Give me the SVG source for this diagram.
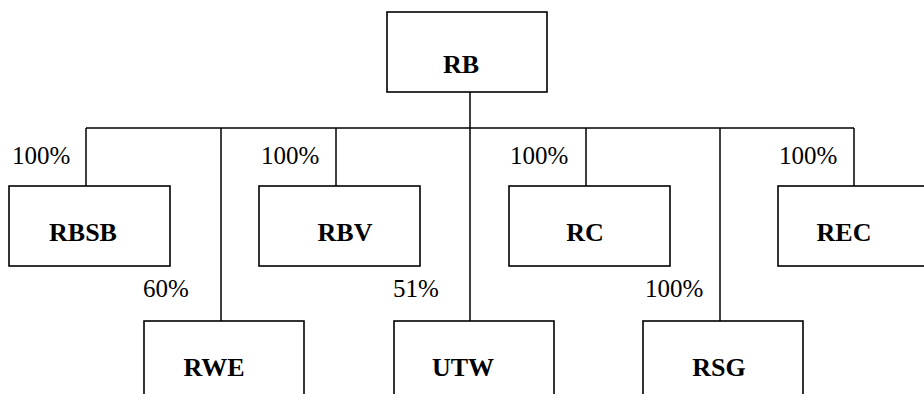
<svg xmlns="http://www.w3.org/2000/svg" width="924" height="394" viewBox="0 0 924 394">
  <style>
    .box { fill: #fff; stroke: #000; stroke-width: 1.6; }
    .line { fill: none; stroke: #000; stroke-width: 1.5; }
  </style>
  <rect width="924" height="394" fill="#fff"/>

  <g id="connectors">
    <line class="line" x1="86" y1="128" x2="854" y2="128"/>
    <line class="line" x1="470" y1="92" x2="470" y2="321"/>
    <line class="line" x1="86" y1="128" x2="86" y2="186"/>
    <line class="line" x1="336" y1="128" x2="336" y2="186"/>
    <line class="line" x1="586" y1="128" x2="586" y2="186"/>
    <line class="line" x1="854" y1="128" x2="854" y2="186"/>
    <line class="line" x1="221" y1="128" x2="221" y2="321"/>
    <line class="line" x1="720" y1="128" x2="720" y2="321"/>
    <g font-family="Liberation Serif, serif" font-size="25" fill="#000">
      <text x="12" y="164">100%</text>
      <text x="261" y="164">100%</text>
      <text x="510" y="164">100%</text>
      <text x="779" y="164">100%</text>
      <text x="143" y="297">60%</text>
      <text x="393" y="297">51%</text>
      <text x="645" y="297">100%</text>
    </g>
  </g>

  <g font-family="Liberation Serif, serif" font-weight="bold" font-size="26" text-anchor="middle" fill="#000">
    <g id="rb">
      <rect class="box" x="387" y="12" width="160" height="80"/>
      <text x="461" y="73">RB</text>
    </g>
    <g id="rbsb">
      <rect class="box" x="9" y="186" width="161" height="80"/>
      <text x="83" y="241">RBSB</text>
    </g>
    <g id="rbv">
      <rect class="box" x="259" y="186" width="161" height="80"/>
      <text x="345" y="241">RBV</text>
    </g>
    <g id="rc">
      <rect class="box" x="509" y="186" width="161" height="80"/>
      <text x="585" y="241">RC</text>
    </g>
    <g id="rec">
      <rect class="box" x="778" y="186" width="161" height="80"/>
      <text x="844" y="241">REC</text>
    </g>
    <g id="rwe">
      <rect class="box" x="144" y="321" width="160" height="80"/>
      <text x="214" y="376">RWE</text>
    </g>
    <g id="utw">
      <rect class="box" x="394" y="321" width="160" height="80"/>
      <text x="463" y="376">UTW</text>
    </g>
    <g id="rsg">
      <rect class="box" x="643" y="321" width="160" height="80"/>
      <text x="719" y="376">RSG</text>
    </g>
  </g>
</svg>
